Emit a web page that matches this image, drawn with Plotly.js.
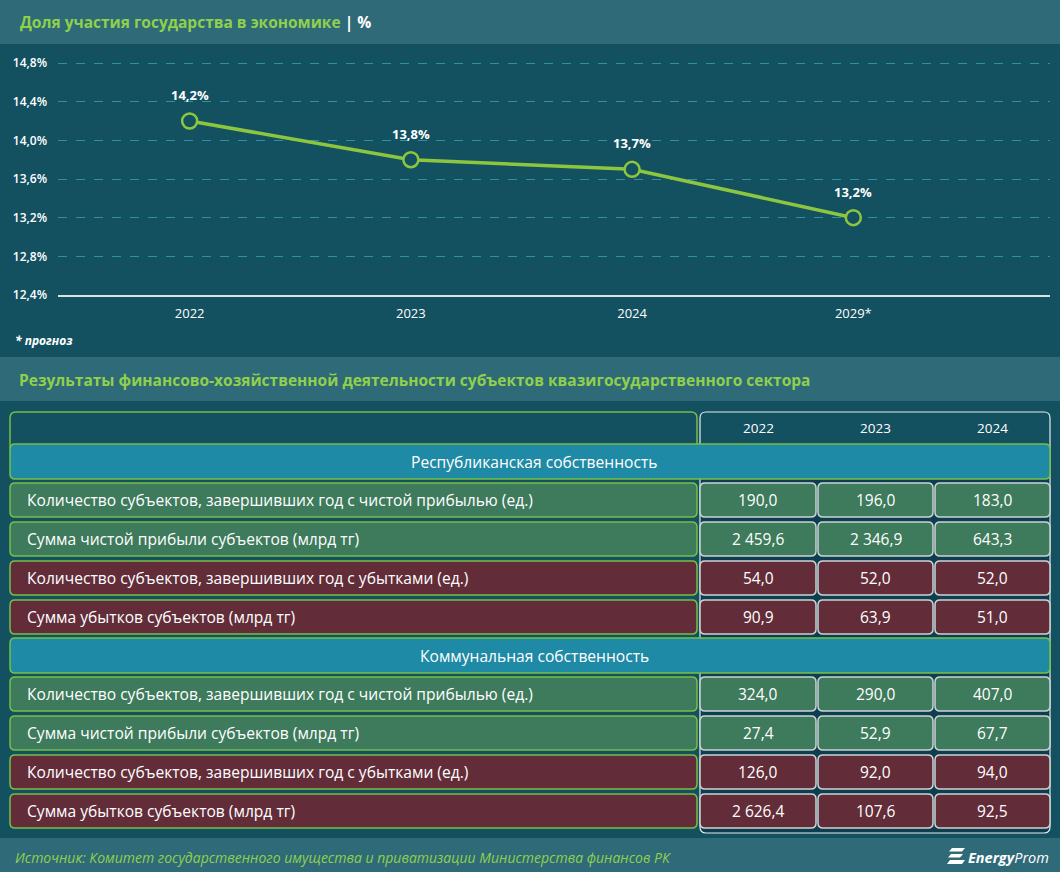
<!DOCTYPE html>
<html>
<head>
<meta charset="utf-8">
<script src="https://cdn.plot.ly/plotly-3.0.1.min.js"></script>
<style>
html,body{margin:0;padding:0;background:#135060;}
#chart{width:1060px;height:872px;}
</style>
</head>
<body>
<div id="chart"></div>
<script>
// ---------- DATA ----------
const chartTitle = 'Доля участия государства в экономике';
const chartUnit = '| %';
const years = ['2022', '2023', '2024', '2029*'];
const share = [14.2, 13.8, 13.7, 13.2];
const forecastNote = '* прогноз';

const tableTitle = 'Результаты финансово-хозяйственной деятельности субъектов квазигосударственного сектора';
const tableYears = ['2022', '2023', '2024'];
const sections = ['Республиканская собственность', 'Коммунальная собственность'];
const rowLabels = [
  'Количество субъектов, завершивших год с чистой прибылью (ед.)',
  'Сумма чистой прибыли субъектов (млрд тг)',
  'Количество субъектов, завершивших год с убытками (ед.)',
  'Сумма убытков субъектов (млрд тг)'
];
const rowKinds = ['profit', 'profit', 'loss', 'loss'];
const repProfitCount = [190.0, 196.0, 183.0];
const repProfitSum = [2459.6, 2346.9, 643.3];
const repLossCount = [54.0, 52.0, 52.0];
const repLossSum = [90.9, 63.9, 51.0];
const comProfitCount = [324.0, 290.0, 407.0];
const comProfitSum = [27.4, 52.9, 67.7];
const comLossCount = [126.0, 92.0, 94.0];
const comLossSum = [2626.4, 107.6, 92.5];
const sectionValues = [
  [repProfitCount, repProfitSum, repLossCount, repLossSum],
  [comProfitCount, comProfitSum, comLossCount, comLossSum]
];
const sourceText = 'Источник: Комитет государственного имущества и приватизации Министерства финансов РК';

// ---------- STYLE / HELPERS ----------
const W = 1060, H = 872;
const FONT = '"Open Sans", "Noto Sans", sans-serif';
const BG = '#135060';
const BAND = '#2f6a79';
const GREEN_TXT = '#8fd04c';
const LINE = '#8cc63f';
const SEC_FILL = '#1f8aa5';
const PROFIT_FILL = '#3e7a5c';
const LOSS_FILL = '#622d39';
const GREEN_BORDER = '#78bf45';
const CELL_BORDER = '#cbd4d4';

const px = x => x / W;
const py = y => 1 - y / H;

function fmtNum(v) {
  const s = v.toFixed(1).split('.');
  const int = s[0].replace(/\B(?=(\d{3})+(?!\d))/g, ' ');
  return int + ',' + s[1];
}

function rr(x0, y0, x1, y1, r) {
  const p = (x, y) => px(x).toFixed(6) + ',' + py(y).toFixed(6);
  return 'M' + p(x0 + r, y0) + ' L' + p(x1 - r, y0) + ' Q' + p(x1, y0) + ' ' + p(x1, y0 + r) +
    ' L' + p(x1, y1 - r) + ' Q' + p(x1, y1) + ' ' + p(x1 - r, y1) +
    ' L' + p(x0 + r, y1) + ' Q' + p(x0, y1) + ' ' + p(x0, y1 - r) +
    ' L' + p(x0, y0 + r) + ' Q' + p(x0, y0) + ' ' + p(x0 + r, y0) + ' Z';
}

const shapes = [];
const annotations = [];

function rect(x0, y0, x1, y1, fill, layer) {
  shapes.push({type: 'rect', xref: 'paper', yref: 'paper', x0: px(x0), x1: px(x1), y0: py(y1), y1: py(y0),
    fillcolor: fill, line: {width: 0}, layer: layer || 'below'});
}
function rbox(x0, y0, x1, y1, fill, border, lw, r) {
  shapes.push({type: 'path', xref: 'paper', yref: 'paper', path: rr(x0, y0, x1, y1, r === undefined ? 5 : r),
    fillcolor: fill, line: {color: border, width: lw || 1.5}, layer: 'above'});
}
function text(x, y, t, size, color, anchor, extra) {
  annotations.push(Object.assign({xref: 'paper', yref: 'paper', x: px(x), y: py(y), text: t, showarrow: false,
    xanchor: anchor || 'left', yanchor: 'middle', font: {family: FONT, size: size, color: color}}, extra || {}));
}

// Bands
rect(0, 0, W, 44, BAND);
rect(0, 357, W, 401, BAND);
rect(0, 838, W, H, BAND);

// Titles
text(18, 22, '<b>' + chartTitle + ' <span style="color:#ffffff">' + chartUnit + '</span></b>', 15.5, GREEN_TXT);
text(13, 340, '<b><i>' + forecastNote + '</i></b>', 12, '#ffffff');
text(17, 380, '<b>' + tableTitle + '</b>', 15.5, GREEN_TXT);
text(13, 857, '<i>' + sourceText + '</i>', 14, GREEN_TXT);

// Table geometry
const LX0 = 10, LX1 = 697;
const colX = [[700, 816], [818, 933], [935, 1050]];
const secH = 35, rowH = 34, pitch = 39;

// dark backing behind right column gaps
rect(700, 479, 1050, 833, '#0e3d4f', 'above');
// header boxes
rbox(LX0, 412, LX1, 452, BG, GREEN_BORDER, 1.5, 6);
rbox(700, 412, 1050, 833, 'rgba(0,0,0,0)', '#e4ecee', 1.2, 6);
tableYears.forEach((yr, j) => {
  text((colX[j][0] + colX[j][1]) / 2, 428, yr, 13.5, '#ffffff', 'center');
});

let y = 444;
sections.forEach((sec, s) => {
  rbox(LX0, y, 1050, y + secH, SEC_FILL, GREEN_BORDER, 1.5, 5);
  text((LX0 + 1050) / 2 + 4, y + secH / 2, sec, 15.6, '#ffffff', 'center');
  y += secH + 4;
  rowLabels.forEach((lab, i) => {
    const fill = rowKinds[i] === 'profit' ? PROFIT_FILL : LOSS_FILL;
    const y0 = y + i * pitch, y1 = y0 + rowH;
    rbox(LX0, y0, LX1, y1, fill, GREEN_BORDER, 1.5, 5);
    text(25, (y0 + y1) / 2, lab, 15.6, '#ffffff', 'left');
    sectionValues[s][i].forEach((v, j) => {
      rbox(colX[j][0], y0, colX[j][1], y1, fill, CELL_BORDER, 1.5, 5);
      text((colX[j][0] + colX[j][1]) / 2, (y0 + y1) / 2, fmtNum(v), 15.5, '#ffffff', 'center');
    });
  });
  y += 3 * pitch + rowH + 4;
});

// Logo
const lg = (x0, y0, x1, y1) => shapes.push({type: 'path', xref: 'paper', yref: 'paper',
  path: 'M' + px(x0 + 3) + ',' + py(y0) + ' L' + px(x1 + 3) + ',' + py(y0) + ' L' + px(x1) + ',' + py(y1) +
    ' L' + px(x0) + ',' + py(y1) + ' Z', fillcolor: '#ffffff', line: {width: 0}, layer: 'above'});
lg(949, 848, 962, 851.5);
lg(948, 854, 960, 857.5);
lg(947, 860, 962, 864);
text(966, 857, '<i><b>Energy</b>Prom</i>', 14.5, '#ffffff', 'left');

// Data labels for line (category index positions on the x scale)
years.forEach((yr, i) => {
  annotations.push({xref: 'x', yref: 'y', x: i, y: share[i], text: '<b>' + fmtNum(share[i]) + '%</b>',
    showarrow: false, yshift: 26, font: {family: FONT, size: 13, color: '#ffffff'}});
});

const trace = {
  x: years, y: share, type: 'scatter', mode: 'lines+markers', hoverinfo: 'skip',
  line: {color: LINE, width: 3.5},
  marker: {symbol: 'circle', size: 15, color: BG, line: {color: LINE, width: 2.5}}
};

const layout = {
  width: W, height: H,
  margin: {l: 0, r: 0, t: 0, b: 0, pad: 0},
  paper_bgcolor: BG, plot_bgcolor: 'rgba(0,0,0,0)',
  separators: ', ',
  showlegend: false,
  font: {family: FONT, color: '#ffffff'},
  xaxis: {
    type: 'category', domain: [px(58), px(1050)], range: [-0.595, 3.889],
    showgrid: false, zeroline: false, showline: true, linecolor: '#d5e3e6', linewidth: 1.5,
    ticks: '', ticklabelstandoff: 6, tickfont: {family: FONT, size: 13, color: '#ffffff', weight: 500}, fixedrange: true
  },
  yaxis: {
    domain: [py(295), py(58.2)], range: [12.4, 14.85], tick0: 12.4, dtick: 0.4,
    tickformat: '.1f', ticksuffix: '%', showgrid: true, gridcolor: '#2f90a2', griddash: 'dash', gridwidth: 1,
    zeroline: false, showline: false, ticks: '', ticklabelstandoff: 10,
    tickfont: {family: FONT, size: 12, color: '#ffffff', weight: 600}, fixedrange: true
  },
  shapes: shapes,
  annotations: annotations
};

Plotly.newPlot('chart', [trace], layout, {displayModeBar: false, staticPlot: true});
</script>
</body>
</html>
